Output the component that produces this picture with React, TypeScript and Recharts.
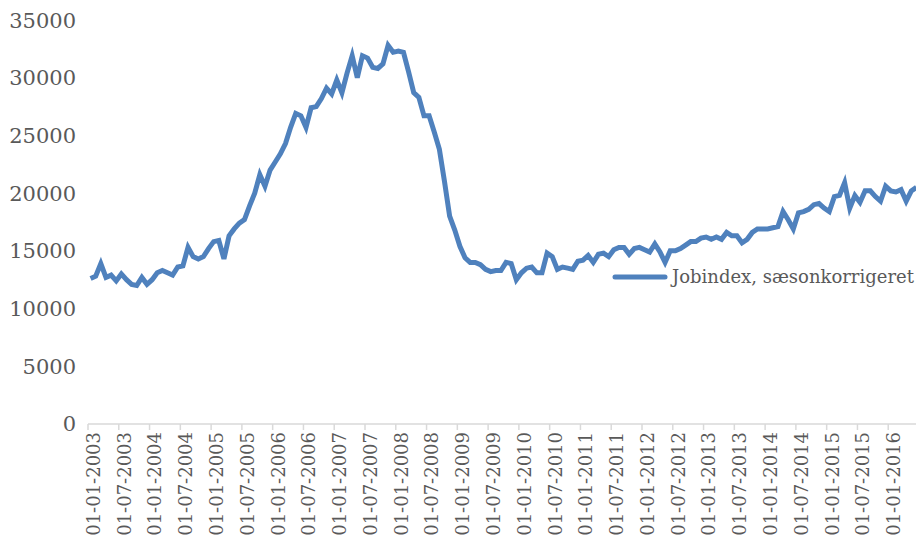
import React from 'react';
import { LineChart, Line, XAxis, YAxis, Legend } from 'recharts';

// Jobindex, seasonally adjusted, monthly from Jan 2003 to Jun 2016
const years = [2003, 2004, 2005, 2006, 2007, 2008, 2009, 2010, 2011, 2012, 2013, 2014, 2015, 2016];
const months = ['01', '02', '03', '04', '05', '06', '07', '08', '09', '10', '11', '12'];
const lastMonthCount = 6; // 2016 runs to June

const jobindex = [
  12600, 12800, 13900, 12700, 12900, 12400, 13000, 12500, 12100, 12000, 12700, 12100,
  12500, 13100, 13300, 13100, 12900, 13600, 13700, 15300, 14500, 14300, 14500, 15200,
  15800, 15900, 14300, 16300, 16900, 17400, 17700, 18900, 20000, 21600, 20600, 22000,
  22700, 23400, 24300, 25700, 26900, 26700, 25700, 27400, 27500, 28200, 29100, 28600,
  29800, 28700, 30400, 31900, 30000, 31900, 31700, 30900, 30800, 31200, 32800, 32200,
  32300, 32200, 30500, 28700, 28300, 26700, 26700, 25300, 23800, 21000, 18000, 16800,
  15400, 14400, 14000, 14000, 13800, 13400, 13200, 13300, 13300, 14000, 13900, 12500,
  13100, 13500, 13600, 13100, 13100, 14800, 14500, 13400, 13600, 13500, 13400, 14100,
  14200, 14600, 14000, 14700, 14800, 14500, 15100, 15300, 15300, 14700, 15200, 15300,
  15100, 14900, 15600, 14900, 14000, 15000, 15000, 15200, 15500, 15800, 15800, 16100,
  16200, 16000, 16200, 16000, 16600, 16300, 16300, 15700, 16000, 16600, 16900, 16900,
  16900, 17000, 17100, 18400, 17700, 16900, 18300, 18400, 18600, 19000, 19100, 18700,
  18400, 19700, 19800, 20900, 18700, 19800, 19200, 20200, 20200, 19700, 19300, 20600,
  20200, 20100, 20300, 19300, 20200, 20500,
];

const yTicks = [0, 5000, 10000, 15000, 20000, 25000, 30000, 35000];

const dates: string[] = [];
years.forEach((y, yi) => {
  const n = yi === years.length - 1 ? lastMonthCount : 12;
  for (let m = 0; m < n; m++) dates.push(`01-${months[m]}-${y}`);
});

const data = dates.map((d, i) => ({ date: d, value: jobindex[i] }));

const PLOT_W = 831;
const BAND = PLOT_W / data.length;
const FONT = '"DejaVu Serif", serif';
const BLUE = '#4F81BD';
const GREY = '#595959';

const DateTick = (props: any) => {
  const { x, y, payload, index } = props;
  const bx = x - BAND / 2;
  const isLast = payload.index + 6 >= data.length;
  return (
    <g>
      <line x1={bx} y1={y} x2={bx} y2={y + 6} stroke="#D9D9D9" strokeWidth={1.5} />
      {isLast && (
        <line x1={bx + BAND * 6} y1={y} x2={bx + BAND * 6} y2={y + 6} stroke="#D9D9D9" strokeWidth={1.5} />
      )}
      <text
        x={0}
        y={0}
        transform={`translate(${x + 3},${y + 8}) rotate(-90)`}
        textAnchor="end"
        dy="0.35em"
        fill={GREY}
        fontSize={18}
        fontFamily={FONT}
      >
        {payload.value}
      </text>
    </g>
  );
};

const renderLegend = () => (
  <div style={{ display: 'flex', alignItems: 'center', fontFamily: FONT, fontSize: 18, color: GREY, whiteSpace: 'nowrap' }}>
    <svg width={56} height={10} style={{ marginRight: 4 }}>
      <line x1={3} y1={5} x2={53} y2={5} stroke={BLUE} strokeWidth={5} strokeLinecap="round" />
    </svg>
    <span>Jobindex, sæsonkorrigeret</span>
  </div>
);

export default function App() {
  return (
    <LineChart width={916} height={540} data={data} margin={{ top: 12, right: 5, bottom: 4, left: 0 }}>
      <XAxis
        dataKey="date"
        interval={5}
        height={120}
        tick={<DateTick />}
        tickLine={false}
        tickSize={0}
        tickMargin={0}
        axisLine={{ stroke: '#D9D9D9', strokeWidth: 1.5 }}
        padding={{ left: BAND / 2, right: BAND / 2 }}
      />
      <YAxis
        width={80}
        domain={[0, 35000]}
        ticks={yTicks}
        axisLine={false}
        tickLine={false}
        tickMargin={6}
        tick={{ fill: GREY, fontSize: 21, fontFamily: FONT }}
      />
      <Legend
        layout="horizontal"
        verticalAlign="middle"
        align="center"
        content={renderLegend}
        wrapperStyle={{ left: 604, top: 258, width: 'auto' }}
      />
      <Line
        type="linear"
        dataKey="value"
        stroke={BLUE}
        strokeWidth={5}
        dot={false}
        isAnimationActive={false}
      />
    </LineChart>
  );
}
